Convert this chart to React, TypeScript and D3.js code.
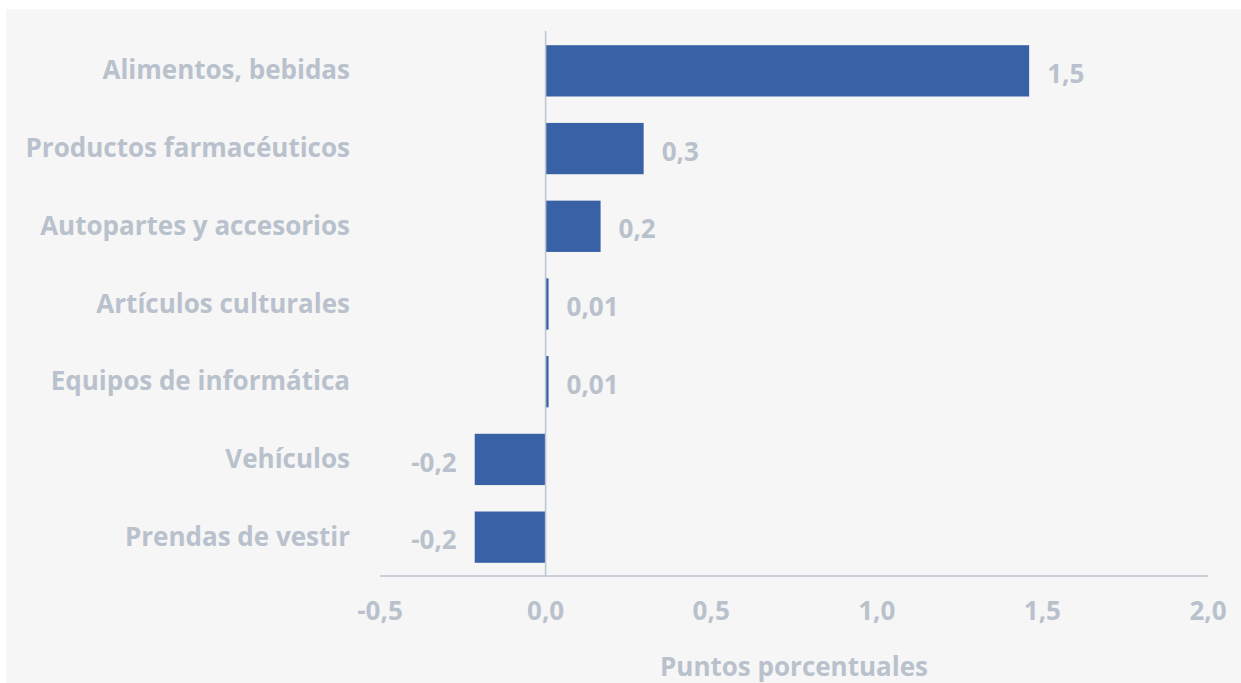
import React, { useEffect, useRef } from 'react';
import * as d3 from 'd3';

const categories = [
  'Alimentos, bebidas',
  'Productos farmacéuticos',
  'Autopartes y accesorios',
  'Artículos culturales',
  'Equipos de informática',
  'Vehículos',
  'Prendas de vestir',
];
const values = [1.46, 0.296, 0.166, 0.009, 0.009, -0.214, -0.214];
const valueLabels = ['1,5', '0,3', '0,2', '0,01', '0,01', '-0,2', '-0,2'];
const xTicks = [-0.5, 0, 0.5, 1.0, 1.5, 2.0];

const W = 1241;
const H = 683;
const FONT = '"Open Sans", sans-serif';
const TEXT = '#b9c1cc';
const BAR = '#3861a6';
const AXIS = '#bcc5d2';

export default function App() {
  const svgRef = useRef<SVGSVGElement>(null);

  useEffect(() => {
    if (!svgRef.current) return;
    const svg = d3.select(svgRef.current);
    svg.selectAll('*').remove();

    svg.append('rect').attr('width', W).attr('height', H).attr('fill', '#ffffff');
    svg.append('rect').attr('x', 6).attr('y', 9).attr('width', W - 6).attr('height', H - 9).attr('fill', '#f6f6f6');

    const x = d3.scaleLinear().domain([-0.5, 2.0]).range([380, 1208]);
    const y = d3
      .scaleBand()
      .domain(categories)
      .range([32, 576])
      .paddingInner(0.34)
      .paddingOuter(0.17);

    const txt = (sel: any) =>
      sel
        .attr('fill', TEXT)
        .style('font-family', FONT)
        .style('font-weight', 700)
        .style('font-size', '26px');

    // x axis line
    svg
      .append('line')
      .attr('x1', x(-0.5))
      .attr('x2', x(2.0))
      .attr('y1', 576)
      .attr('y2', 576)
      .attr('stroke', AXIS)
      .attr('stroke-width', 1.5);

    // tick labels
    svg
      .selectAll('.tick')
      .data(xTicks)
      .enter()
      .append('text')
      .attr('x', d => x(d))
      .attr('y', 620)
      .attr('text-anchor', 'middle')
      .call(txt)
      .text(d => d3.format('.1f')(d).replace('.', ',').replace('−', '-'));

    // bars
    svg
      .selectAll('.bar')
      .data(values)
      .enter()
      .append('rect')
      .attr('x', d => x(Math.min(0, d)))
      .attr('y', (_, i) => y(categories[i])!)
      .attr('width', d => Math.abs(x(d) - x(0)))
      .attr('height', y.bandwidth())
      .attr('fill', BAR);

    // zero line
    svg
      .append('line')
      .attr('x1', x(0))
      .attr('x2', x(0))
      .attr('y1', 31)
      .attr('y2', 576)
      .attr('stroke', AXIS)
      .attr('stroke-width', 1.5);

    // category labels
    svg
      .selectAll('.cat')
      .data(categories)
      .enter()
      .append('text')
      .attr('x', 350)
      .attr('y', d => y(d)! + y.bandwidth() / 2)
      .attr('dy', '0.33em')
      .attr('text-anchor', 'end')
      .call(txt)
      .text(d => d);

    // value labels
    svg
      .selectAll('.val')
      .data(values)
      .enter()
      .append('text')
      .attr('x', d => (d >= 0 ? x(d) + 18 : x(d) - 18))
      .attr('y', (_, i) => y(categories[i])! + y.bandwidth() / 2 + 3)
      .attr('dy', '0.35em')
      .attr('text-anchor', d => (d >= 0 ? 'start' : 'end'))
      .call(txt)
      .text((_, i) => valueLabels[i]);

    // axis title
    svg
      .append('text')
      .attr('x', (x(-0.5) + x(2.0)) / 2)
      .attr('y', 676)
      .attr('text-anchor', 'middle')
      .call(txt)
      .text('Puntos porcentuales');
  }, []);

  return (
    <svg
      ref={svgRef}
      width={W}
      height={H}
      style={{ position: 'absolute', left: 0, top: 0, display: 'block' }}
    />
  );
}
